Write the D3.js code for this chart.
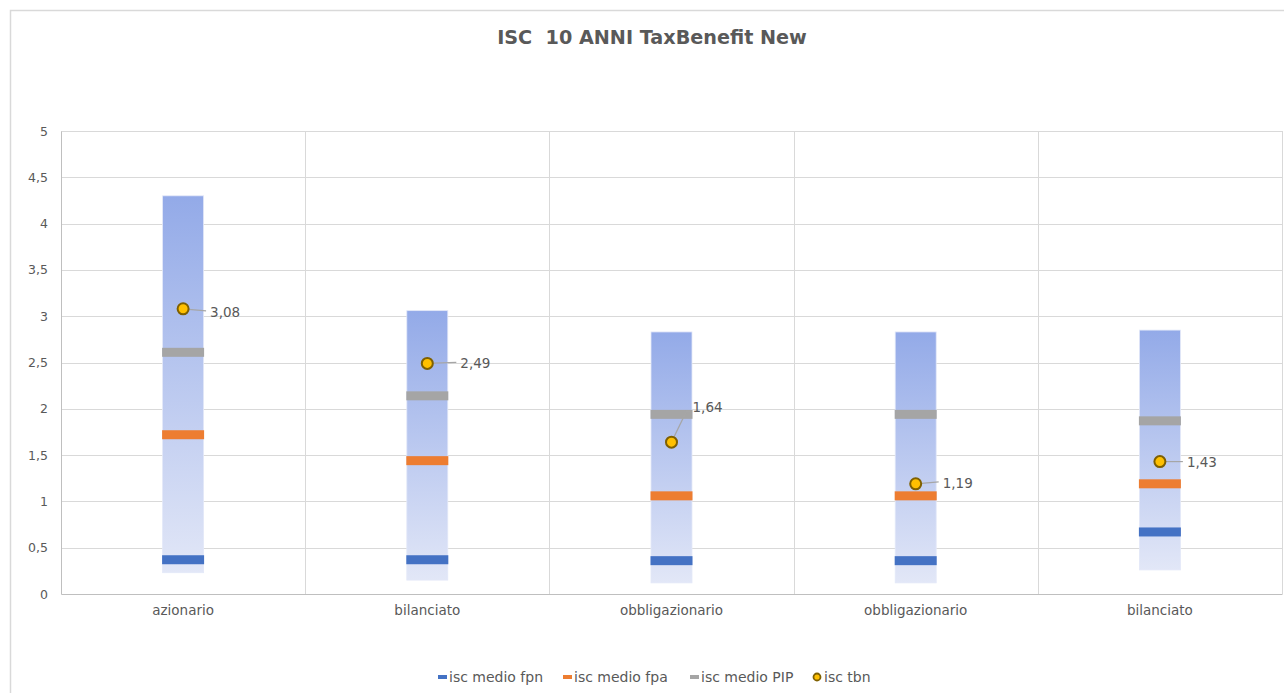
<!DOCTYPE html>
<html><head><meta charset="utf-8">
<script src="https://cdn.jsdelivr.net/npm/d3@7"></script>
<style>
body{margin:0;background:#fff;}
svg{display:block;font-family:"DejaVu Sans","Lato",sans-serif;}
</style></head>
<body><svg id="c" width="1284" height="693"></svg>
<script>
const categories = ["azionario","bilanciato","obbligazionario","obbligazionario","bilanciato"];
const rangeLow  = [0.23, 0.15, 0.12, 0.12, 0.26];
const rangeHigh = [4.30, 3.06, 2.83, 2.83, 2.85];
const iscFpn = [0.37, 0.37, 0.36, 0.36, 0.67];
const iscFpa = [1.72, 1.44, 1.06, 1.06, 1.19];
const iscPip = [2.61, 2.14, 1.94, 1.94, 1.87];
const iscTbn = [3.08, 2.49, 1.64, 1.19, 1.43];
const yTicks = [0,0.5,1,1.5,2,2.5,3,3.5,4,4.5,5];
const seriesNames = ["isc medio fpn","isc medio fpa","isc medio PIP","isc tbn"];

const svg = d3.select("#c");
const W=1284,H=693;
const m={left:61,right:1282,top:131,bottom:594};
const fmt = v => String(v).replace(".", ",");

// outer frame
svg.append("rect").attr("x",10.5).attr("y",10.5).attr("width",W).attr("height",H)
  .attr("fill","#fff").attr("stroke","#d9d9d9").attr("stroke-width",1.5);

const x = d3.scaleBand().domain(d3.range(categories.length)).range([m.left,m.right]).padding(0);
const y = d3.scaleLinear().domain([0,5]).range([m.bottom,m.top]);

// horizontal grid
svg.append("g").selectAll("line").data(yTicks.filter(t=>t>0)).join("line")
  .attr("x1",m.left).attr("x2",m.right).attr("y1",d=>Math.round(y(d))+0.5).attr("y2",d=>Math.round(y(d))+0.5)
  .attr("stroke","#d9d9d9").attr("stroke-width",1);
// vertical grid at category boundaries
svg.append("g").selectAll("line").data(d3.range(categories.length+1)).join("line")
  .attr("x1",d=>Math.round(m.left + d*x.bandwidth())+0.5).attr("x2",d=>Math.round(m.left + d*x.bandwidth())+0.5)
  .attr("y1",m.top).attr("y2",m.bottom).attr("stroke","#d9d9d9");

// y axis
const yAxis = svg.append("g").attr("transform",`translate(${m.left},0)`)
  .call(d3.axisLeft(y).tickValues(yTicks).tickSize(0).tickPadding(13).tickFormat(fmt))
  .attr("font-family",null);
yAxis.select(".domain").attr("stroke","#bfbfbf");
yAxis.selectAll("text").attr("fill","#595959").attr("font-size",12.5);

// x axis
const xAxis = svg.append("g").attr("transform",`translate(0,${m.bottom})`)
  .call(d3.axisBottom(x).tickSize(0).tickPadding(11).tickFormat(i=>categories[i]))
  .attr("font-family",null);
xAxis.select(".domain").attr("stroke","#bfbfbf");
xAxis.selectAll("text").attr("fill","#595959").attr("font-size",13.5);

// gradient
const defs = svg.append("defs");
const g = defs.append("linearGradient").attr("id","bg").attr("x1",0).attr("y1",0).attr("x2",0).attr("y2",1);
g.append("stop").attr("offset","0%").attr("stop-color","#93aae8");
g.append("stop").attr("offset","100%").attr("stop-color","#e2e7f7");

const barW = 41;
const cx = i => x(i) + x.bandwidth()/2;
svg.append("g").selectAll("rect").data(d3.range(categories.length)).join("rect")
  .attr("x",i=>cx(i)-barW/2).attr("width",barW)
  .attr("y",i=>y(rangeHigh[i])).attr("height",i=>y(rangeLow[i])-y(rangeHigh[i]))
  .attr("fill","url(#bg)").attr("stroke","#e3e8f8").attr("stroke-width",0.8);

// dash markers
const dashSeries = [[iscFpn,"#4472c4"],[iscFpa,"#ed7d31"],[iscPip,"#a5a5a5"]];
const dashW=42, dashH=9;
dashSeries.forEach(([vals,col])=>{
  svg.append("g").selectAll("rect").data(vals).join("rect")
    .attr("x",(d,i)=>cx(i)-dashW/2).attr("width",dashW)
    .attr("y",d=>y(d)-dashH/2).attr("height",dashH).attr("fill",col);
});

// labels with leader lines (layout offsets in px)
const labelOff = [[27,3],[33,0],[21,-35],[27,-1],[27,1]];
const lg = svg.append("g");
iscTbn.forEach((v,i)=>{
  const px=cx(i), py=y(v);
  const [dx,dy]=labelOff[i];
  const lx=px+dx, ly=py+dy;
  let path;
  if(Math.abs(dy)>10){
    path=`M${px},${py} L${lx-6},${ly+4} L${lx-1},${ly+4}`;
  } else {
    path=`M${px},${py} L${lx-4},${ly-1}`;
  }
  lg.append("path").attr("d",path).attr("fill","none").attr("stroke","#a6a6a6").attr("stroke-width",1.2);
  lg.append("text").attr("x",lx).attr("y",ly).attr("dy","0.35em")
    .attr("fill","#595959").attr("font-size",13.5).text(fmt(v));
});

// circles
svg.append("g").selectAll("circle").data(iscTbn).join("circle")
  .attr("cx",(d,i)=>cx(i)).attr("cy",d=>y(d)).attr("r",5.5)
  .attr("fill","#ffc000").attr("stroke","#7f6000").attr("stroke-width",2);

// title
svg.append("text").attr("x",652).attr("y",37).attr("dy","0.35em").attr("text-anchor","middle")
  .attr("fill","#595959").attr("font-size",19.2).attr("font-weight","bold").style("white-space","pre")
  .text("ISC  10 ANNI TaxBenefit New");

// legend
const legX=[438,563,690,813];
const leg = svg.append("g");
seriesNames.forEach((n,i)=>{
  const gx=legX[i], gy=677;
  if(i<3){
    leg.append("rect").attr("x",gx).attr("y",gy-2).attr("width",9).attr("height",4).attr("fill",dashSeries[i][1]);
  } else {
    leg.append("circle").attr("cx",gx+4).attr("cy",gy).attr("r",3.5).attr("fill","#ffc000").attr("stroke","#7f6000").attr("stroke-width",1.8);
  }
  leg.append("text").attr("x",gx+11).attr("y",gy).attr("dy","0.35em")
    .attr("fill","#595959").attr("font-size",14).text(n);
});
</script></body></html>
